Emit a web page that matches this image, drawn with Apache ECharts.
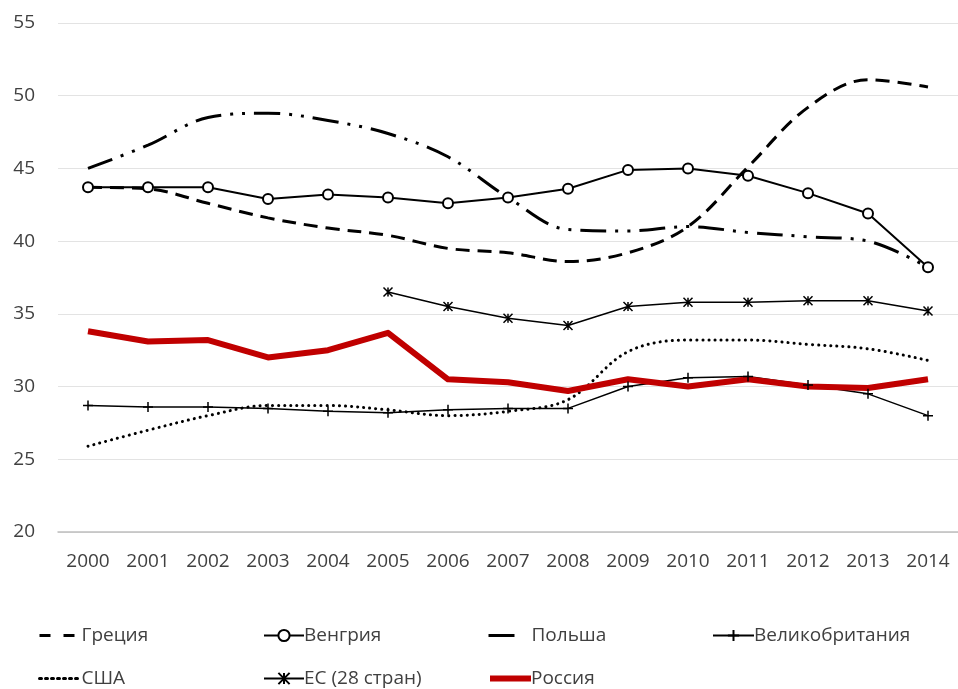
<!DOCTYPE html>
<html>
<head>
<meta charset="utf-8">
<script src="https://cdn.jsdelivr.net/npm/echarts@6/dist/echarts.min.js"></script>
<style>
html,body{margin:0;padding:0;background:#fff;}
#chart{width:958px;height:689px;}
</style>
</head>
<body>
<div id="chart"></div>
<script>
var years = ['2000','2001','2002','2003','2004','2005','2006','2007','2008','2009','2010','2011','2012','2013','2014'];
var greece  = [43.7, 43.6, 42.6, 41.6, 40.9, 40.4, 39.5, 39.2, 38.6, 39.2, 41.0, 45.1, 49.2, 51.1, 50.6];
var hungary = [43.7, 43.7, 43.7, 42.9, 43.2, 43.0, 42.6, 43.0, 43.6, 44.9, 45.0, 44.5, 43.3, 41.9, 38.2];
var poland  = [45.0, 46.6, 48.5, 48.8, 48.3, 47.4, 45.8, 43.0, 40.8, 40.7, 41.0, 40.6, 40.3, 40.0, 38.2];
var uk      = [28.7, 28.6, 28.6, 28.5, 28.3, 28.2, 28.4, 28.5, 28.5, 30.0, 30.6, 30.7, 30.1, 29.5, 28.0];
var usa     = [25.9, 27.0, 28.0, 28.7, 28.7, 28.4, 28.0, 28.3, 29.1, 32.4, 33.2, 33.2, 32.9, 32.6, 31.8];
var eu      = [null, null, null, null, null, 36.5, 35.5, 34.7, 34.2, 35.5, 35.8, 35.8, 35.9, 35.9, 35.2];
var russia  = [33.8, 33.1, 33.2, 32.0, 32.5, 33.7, 30.5, 30.3, 29.7, 30.5, 30.0, 30.5, 30.0, 29.9, 30.5];
var names = ['Греция','Венгрия','Польша','Великобритания','США','ЕС (28 стран)','Россия'];

var FONT = 'Open Sans';
var TXT = '#404040';
var plusPath = 'path://M5,0 L5,10 M0,5 L10,5';
var starPath = 'path://M0,0 L10,10 M10,0 L0,10 M5,0 L5,10';

var chart = echarts.init(document.getElementById('chart'), null, {renderer:'canvas'});

function leg(name, left, top, w, noSymbol, lineStyle) {
  var item = {name: name};
  if (noSymbol) { item.itemStyle = {opacity: 0}; }
  if (lineStyle) { item.lineStyle = lineStyle; }
  return {
    data: [item], left: left, top: top, padding: 0,
    itemWidth: w || 37, itemHeight: 14, selectedMode: false,
    textStyle: {fontFamily: FONT, fontSize: 19, color: TXT, padding: [0,0,0,-5]}
  };
}

var option = {
  animation: false,
  backgroundColor: '#fff',
  grid: {left: 58, right: 0, top: 23, bottom: 157, containLabel: false},
  legend: [
    leg(names[0], 38, 626, 42, true, {width: 3, type: [11, 13]}),
    leg(names[1], 263, 626, 40, false, {width: 2}),
    leg(names[2], 487, 626, 43, true, {width: 3, type: [26, 60]}),
    leg(names[3], 712, 626, 41, false, {width: 2}),
    leg(names[4], 38, 669, 42, true, {width: 3, type: [2, 4]}),
    leg(names[5], 263, 669, 40, false, {width: 2}),
    leg(names[6], 487, 669, 41, true, {width: 6})
  ],
  xAxis: {
    type: 'category', data: years, boundaryGap: true,
    axisLine: {show: true, lineStyle: {color: '#bfbfbf', width: 1.5}},
    axisTick: {show: false},
    axisLabel: {fontFamily: FONT, fontSize: 19, color: TXT, margin: 20},
    splitLine: {show: false}
  },
  yAxis: {
    type: 'value', min: 20, max: 55, interval: 5,
    axisLine: {show: false}, axisTick: {show: false},
    axisLabel: {fontFamily: FONT, fontSize: 19, color: TXT, margin: 23},
    splitLine: {show: true, lineStyle: {color: '#e3e3e3', width: 1}}
  },
  series: [
    {name: names[0], type: 'line', data: greece, smooth: 0.35, symbol: 'none',
     lineStyle: {color: '#000', width: 3, type: [14, 8]}, itemStyle: {color: '#000'}},
    {name: names[1], type: 'line', data: hungary, symbol: 'emptyCircle', symbolSize: 10,
     lineStyle: {color: '#000', width: 2}, itemStyle: {color: '#000', borderColor: '#000', borderWidth: 1.5}},
    {name: names[2], type: 'line', data: poland, smooth: 0.35, symbol: 'none',
     lineStyle: {color: '#000', width: 3, type: [26, 9, 3, 9, 3, 9]}, itemStyle: {color: '#000'}},
    {name: names[3], type: 'line', data: uk, symbol: plusPath, symbolSize: 10,
     lineStyle: {color: '#000', width: 1.5}, itemStyle: {color: '#000', borderColor: '#000', borderWidth: 1.5}},
    {name: names[4], type: 'line', data: usa, smooth: 0.35, symbol: 'none',
     lineStyle: {color: '#000', width: 3, type: [0.1, 6], cap: 'round'}, itemStyle: {color: '#000'}},
    {name: names[5], type: 'line', data: eu, symbol: starPath, symbolSize: 9,
     lineStyle: {color: '#000', width: 1.5}, itemStyle: {color: '#000', borderColor: '#000', borderWidth: 1.5}},
    {name: names[6], type: 'line', data: russia, symbol: 'none',
     lineStyle: {color: '#c00000', width: 6, join: 'round'}, itemStyle: {color: '#c00000'}}
  ]
};
chart.setOption(option);
</script>
</body>
</html>
